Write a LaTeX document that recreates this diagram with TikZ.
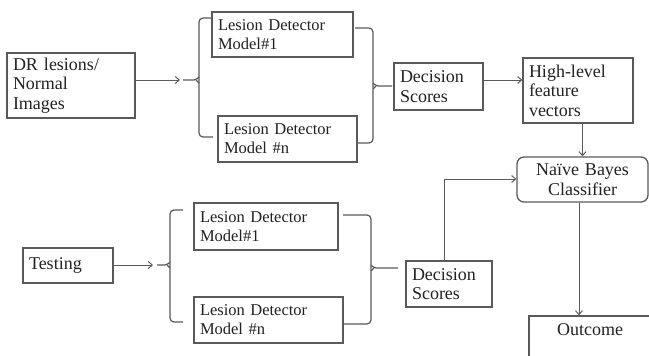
\documentclass[tikz,border=0pt]{standalone}
\usepackage{fontspec}
\setmainfont{Liberation Serif}
\usetikzlibrary{arrows.meta}
\definecolor{linec}{HTML}{5A5A5A}
\definecolor{textc}{HTML}{222222}
\tikzset{
  box/.style={draw=linec, line width=1.3pt, rectangle, inner xsep=6pt, inner ysep=1pt,
    align=left, text=textc, font=\fontsize{18}{19.5}\selectfont, anchor=center},
  ldbox/.style={box, font=\fontsize{16.5}{19}\selectfont},
  cbox/.style={box, align=center},
  conn/.style={draw=linec, line width=1pt, -{Straight Barb[length=4pt,width=7pt]}},
  brace/.style={draw=linec, line width=1.2pt, rounded corners=4pt},
}
\begin{document}
\begin{tikzpicture}[x=1pt,y=-1pt]
\clip (0,0) rectangle (649,356);
\useasboundingbox (0,0) rectangle (649,356);
\fill[white] (0,0) rectangle (649,356);

% upper row
\node[box, minimum width=128, minimum height=65, text width=116] (dr) at (71,85.5) {DR lesions/\\Normal\\Images};
\node[ldbox, minimum width=141, minimum height=45, text width=129] (ldA) at (282.5,34.5) {Lesion Detector\\Model\#1};
\node[ldbox, minimum width=139, minimum height=46, text width=127] (ldB) at (287.5,139) {Lesion Detector\\Model \#n};
\node[box, minimum width=89, minimum height=47, text width=77] (dsA) at (438.5,86.5) {Decision\\Scores};
\node[box, minimum width=110, minimum height=65, text width=98] (hl) at (578,90.5) {High-level\\feature\\vectors};
\node[cbox, rounded corners=7pt, minimum width=131, minimum height=45, text width=119] (nb) at (582.5,179.5) {Naïve Bayes\\Classifier};

% lower row
\node[box, minimum width=90, minimum height=35, text width=78] (test) at (68,265.5) {Testing};
\node[ldbox, minimum width=144, minimum height=47, text width=132] (ldC) at (266,226.5) {Lesion Detector\\Model\#1};
\node[ldbox, minimum width=149, minimum height=46, text width=137] (ldD) at (268.5,320) {Lesion Detector\\Model \#n};
\node[box, minimum width=86, minimum height=46, text width=74] (dsB) at (449,284) {Decision\\Scores};
\node[box, minimum width=130, minimum height=60, text width=118, align=center] (out) at (594,346) {};
\node[text=textc, font=\fontsize{18}{19.5}\selectfont] (outt) at (590,330) {Outcome};

% braces upper
\coordinate (b1tip) at (183,80);
\draw[brace] (212,18) -- (199,18) -- (199,137) -- (213,137);
\draw[brace, rounded corners=2pt] (b1tip) -- (196,80) -- (199,77);
\draw[brace, rounded corners=2pt] (196,80) -- (199,83);
\coordinate (b2tip) at (392,86);
\draw[brace] (355,28) -- (373,28) -- (373,143) -- (357,143);
\draw[brace, rounded corners=2pt] (b2tip) -- (376,86) -- (373,83);
\draw[brace, rounded corners=2pt] (376,86) -- (373,89);

% braces lower
\coordinate (b3tip) at (157,265);
\draw[brace] (183,210) -- (170,210) -- (170,322) -- (183,322);
\draw[brace, rounded corners=2pt] (b3tip) -- (167,265) -- (170,262);
\draw[brace, rounded corners=2pt] (167,265) -- (170,268);
\coordinate (b4tip) at (398,268);
\draw[brace] (343,215) -- (371,215) -- (371,324) -- (343,324);
\draw[brace, rounded corners=2pt] (b4tip) -- (374,268) -- (371,265);
\draw[brace, rounded corners=2pt] (374,268) -- (371,271);

% connectors
\draw[conn] (dr.east |- b1tip) -- ([xshift=-3pt]b1tip);
\draw[conn] (dsA.east |- 0,80) -- (hl.west |- 0,80);
\draw[conn] (hl.south -| nb.north) -- (nb.north);
\draw[conn] (dsB.north -| 444,0) |- (nb.west |- 0,179);
\draw[conn] (nb.south -| 579,0) -- (out.north -| 579,0);
\draw[conn] (test.east |- b3tip) -- ([xshift=-4pt]b3tip);
\end{tikzpicture}
\end{document}
